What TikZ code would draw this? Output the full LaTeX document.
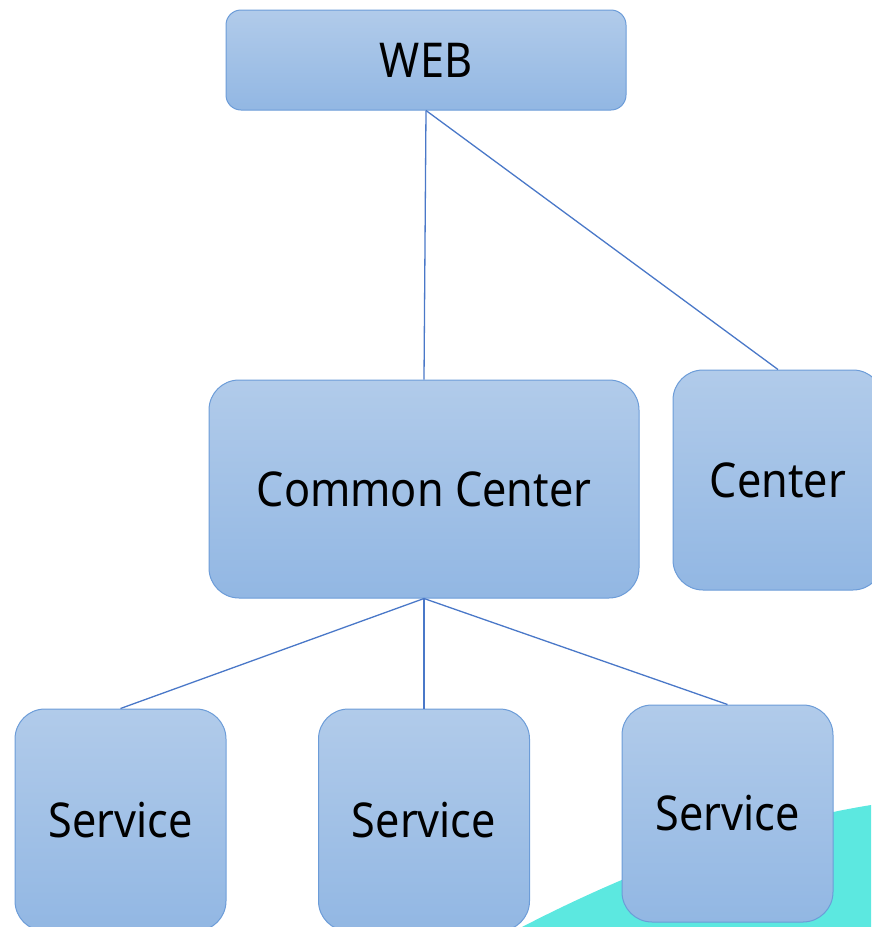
\documentclass[tikz,border=0pt]{standalone}
\usepackage{fontspec}
\setmainfont{Noto Sans}[FakeStretch=0.9]
\definecolor{boxtop}{HTML}{B1CBEA}
\definecolor{boxbot}{HTML}{92B7E3}
\definecolor{boxline}{HTML}{6C9CD8}
\definecolor{linkblue}{HTML}{4A78C8}
\definecolor{swoosh}{HTML}{5CE8E0}
\tikzset{
    block/.style={draw=boxline, line width=1pt, top color=boxtop, bottom color=boxbot,
        rounded corners=#1, inner sep=0pt, font=\fontsize{48}{52}\selectfont},
    block/.default=30pt,
    link/.style={draw=linkblue, line width=1.3pt}
}

\begin{document}
\begin{tikzpicture}[x=1pt,y=-1pt]
            \useasboundingbox (0,0) rectangle (871,927);
            \fill[swoosh] (522,927) .. controls (640,866) and (760,823) .. (871,805) -- (871,927) -- cycle;
            \node[block=15pt, minimum width=400pt, minimum height=100pt] (web) at (426,60) {WEB};
            \node[block, minimum width=430pt, minimum height=218pt] (common) at (424,489) {Common Center};
            \node[block, minimum width=210pt, minimum height=220pt] (center) at (778,480) {Center};
            \node[block, minimum width=211pt, minimum height=222pt] (svcA) at (120.5,820) {Service};
            \node[block, minimum width=211pt, minimum height=222pt] (svcB) at (424,820) {Service};
            \node[block, minimum width=211pt, minimum height=217pt] (svcC) at (727.5,813.5) {Service};
            \draw[link] (web.south) -- (common.north);
            \draw[link] (web.south) -- (center.north);
            \draw[link] (common.south) -- (svcA.north);
            \draw[link] (common.south) -- (svcB.north);
            \draw[link] (common.south) -- (svcC.north);
        \end{tikzpicture}
\end{document}
